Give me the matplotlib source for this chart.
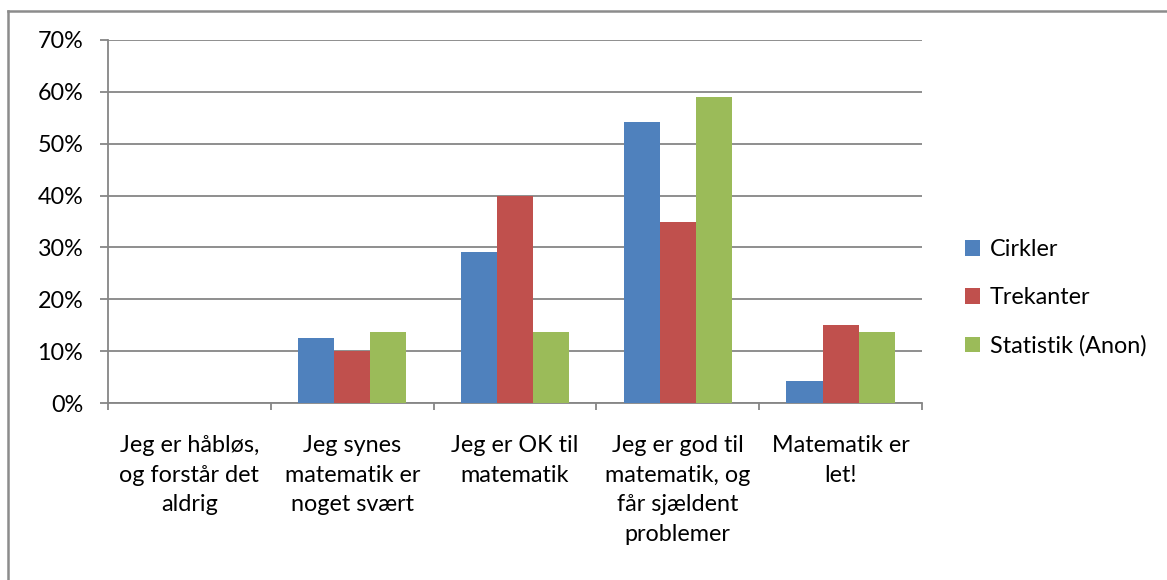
import matplotlib
matplotlib.use("Agg")
import matplotlib.pyplot as plt
import numpy as np
from matplotlib.lines import Line2D
from matplotlib.patches import Patch

categories = [
    "Jeg er håbløs,\nog forstår det\naldrig",
    "Jeg synes\nmatematik er\nnoget svært",
    "Jeg er OK til\nmatematik",
    "Jeg er god til\nmatematik, og\nfår sjældent\nproblemer",
    "Matematik er\nlet!",
]
series_names = ["Cirkler", "Trekanter", "Statistik (Anon)"]
cirkler = [0.0, 12.5, 29.2, 54.2, 4.2]
trekanter = [0.0, 10.0, 40.0, 35.0, 15.0]
statistik = [0.0, 13.6, 13.6, 59.1, 13.6]
yticks = [0, 10, 20, 30, 40, 50, 60, 70]
ytick_labels = ["0%", "10%", "20%", "30%", "40%", "50%", "60%", "70%"]

colors = ["#4F81BD", "#C0504D", "#9BBB59"]
grid_color = "#868686"
font = ["Lato", "DejaVu Sans"]
plt.rcParams["font.family"] = font
fs = 16.8

W, H = 1167, 580
fig = plt.figure(figsize=(W / 100, H / 100), dpi=100)
ax = fig.add_axes([108 / W, 1 - 403 / H, (922 - 108) / W, (403 - 40) / H])

n = len(categories)
x = np.arange(n)
bw = 0.222
data = [cirkler, trekanter, statistik]
for i, (vals, c) in enumerate(zip(data, colors)):
    ax.bar(x + (i - 1) * bw, vals, width=bw, color=c, edgecolor="none", zorder=3)

ax.set_xlim(-0.5, n - 0.5)
ax.set_ylim(0, 70)
ax.set_yticks(yticks)
ax.set_yticklabels(ytick_labels, fontsize=fs, color="#000000")
ax.yaxis.grid(True, color=grid_color, linewidth=1.3, zorder=1)
ax.set_axisbelow(True)

ax.set_xticks(np.arange(-0.5, n, 1.0))
ax.set_xticklabels([])
ax.tick_params(axis="x", direction="out", length=5, width=1.3, color=grid_color)
ax.tick_params(axis="y", direction="out", length=5.8, width=1.3, color=grid_color, pad=12)

for s in ["top", "right"]:
    ax.spines[s].set_visible(False)
for s in ["left", "bottom"]:
    ax.spines[s].set_color(grid_color)
    ax.spines[s].set_linewidth(1.3)

for xi, lab in zip(x, categories):
    ax.text(xi, -6.2, lab, ha="center", va="top", fontsize=fs,
            linespacing=1.5, transform=ax.transData)

handles = [Patch(facecolor=c, edgecolor="none") for c in colors]
fig.legend(handles, series_names, loc="center left",
           bbox_to_anchor=(944 / W, 1 - 298 / H), frameon=False,
           fontsize=fs, handlelength=0.65, handleheight=0.65,
           handletextpad=0.4, labelspacing=1.15)

# outer chart border (left and top visible)
fig.add_artist(Line2D([7.5 / W, 7.5 / W], [0, 1 - 10.5 / H], transform=fig.transFigure,
                      color="#8C8C8C", linewidth=1.8))
fig.add_artist(Line2D([7.5 / W, 1], [1 - 10.5 / H, 1 - 10.5 / H], transform=fig.transFigure,
                      color="#8C8C8C", linewidth=1.8))

fig.savefig("out.png", dpi=100, facecolor="white")
